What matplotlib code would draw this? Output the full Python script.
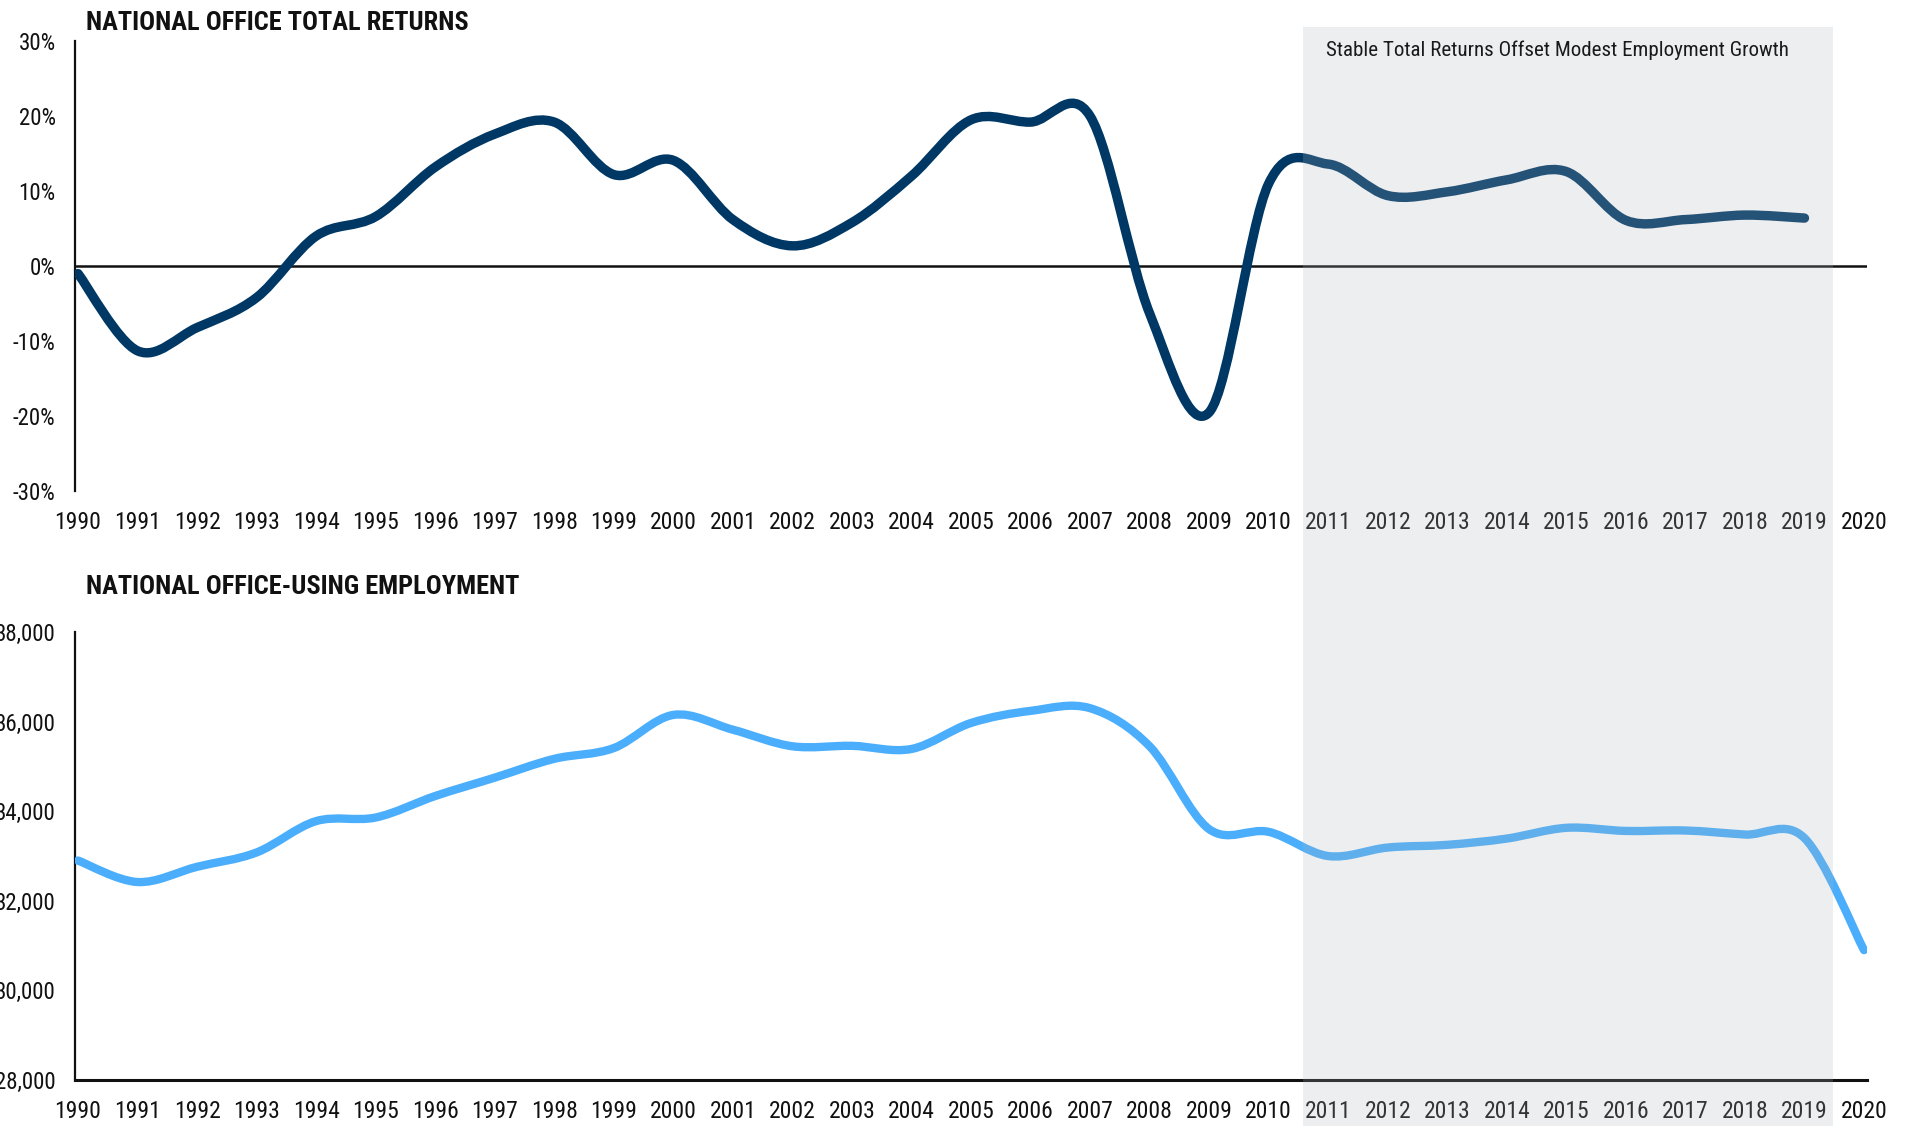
import matplotlib.pyplot as plt
import matplotlib.transforms as mtransforms
from matplotlib.path import Path
from matplotlib.patches import PathPatch, Rectangle
from matplotlib.ticker import FuncFormatter
import numpy as np

plt.rcParams['font.family'] = ['Roboto Condensed', 'Roboto', 'DejaVu Sans']
plt.rcParams['font.stretch'] = 'condensed'

# national office total returns, % per year
return_years = list(range(1990, 2020))
total_returns = [-1.0, -11.3, -8.2, -4.2, 4.0, 6.6, 13.2, 17.6, 19.2, 12.2,
                 14.1, 6.2, 2.7, 5.8, 12.0, 19.5, 19.2, 20.0, -6.3, -19.5,
                 11.0, 13.6, 9.4, 9.9, 11.5, 12.6, 6.1, 6.2, 6.8, 6.4]

# national office-using employment (thousands)
emp_years = list(range(1990, 2021))
employment = [32900, 32420, 32760, 33080, 33780, 33860, 34340, 34750, 35170, 35410,
              36150, 35820, 35450, 35460, 35390, 35970, 36240, 36300, 35450, 33600,
              33540, 33000, 33190, 33250, 33390, 33630, 33560, 33570, 33480, 33400,
              30900]

year_ticks = list(range(1990, 2021))
shade_span = (2010.58, 2019.48)
shade_note = 'Stable Total Returns Offset Modest Employment Growth'

NAVY = '#003865'
SKY = '#4aaefc'


def smooth_path(xs, ys):
    # catmull-rom style bezier through every point, like a spreadsheet "smoothed line"
    p = np.column_stack([xs, ys]).astype(float)
    ext = np.vstack([p[0], p, p[-1]])
    verts = [p[0]]
    codes = [Path.MOVETO]
    for i in range(1, len(ext) - 2):
        p0, p1, p2, p3 = ext[i - 1], ext[i], ext[i + 1], ext[i + 2]
        c1 = p1 + (p2 - p0) / 6.0
        c2 = p2 - (p3 - p1) / 6.0
        verts += [c1, c2, p2]
        codes += [Path.CURVE4] * 3
    return Path(verts, codes)


def draw_line(ax, xs, ys, color, lw):
    patch = PathPatch(smooth_path(xs, ys), facecolor='none', edgecolor=color,
                      lw=lw, capstyle='round', joinstyle='round', zorder=3)
    ax.add_patch(patch)


fig = plt.figure(figsize=(19.1, 11.26), dpi=100)

left, width = 75 / 1910, 1792 / 1910
ax1 = fig.add_axes([left, 0.5639, width, 0.3996])
ax2 = fig.add_axes([left, 0.0408, width, 0.3979])

for ax in (ax1, ax2):
    ax.set_xlim(1989.95, 2020.05)
    ax.set_xticks(year_ticks)
    ax.set_xticklabels([str(y) for y in year_ticks], fontsize=17, color='#111111')
    ax.tick_params(axis='both', length=0)
    ax.tick_params(axis='x', pad=14.5)
    ax.tick_params(axis='y', pad=14, labelsize=16.5, labelcolor='#111111')
    for s in ('top', 'right'):
        ax.spines[s].set_visible(False)
    ax.spines['left'].set_linewidth(1.6)
    ax.spines['left'].set_color('#111111')

# top panel: returns
ax1.set_ylim(-30, 30)
ax1.set_yticks([-30, -20, -10, 0, 10, 20, 30])
ax1.yaxis.set_major_formatter(FuncFormatter(lambda v, _: '{:.0f}%'.format(v)))
ax1.spines['bottom'].set_visible(False)
ax1.axhline(0, color='#111111', lw=1.8, zorder=2)
draw_line(ax1, return_years, total_returns, NAVY, 6.8)

# bottom panel: employment
ax2.set_ylim(28000, 38000)
ax2.set_yticks(range(28000, 38001, 2000))
ax2.yaxis.set_major_formatter(FuncFormatter(lambda v, _: '{:,.0f}'.format(v)))
ax2.spines['bottom'].set_linewidth(2.2)
ax2.spines['bottom'].set_color('#111111')
draw_line(ax2, emp_years, employment, SKY, 6)

fig.text(86 / 1910, 1 - 23 / 1126, 'NATIONAL OFFICE TOTAL RETURNS',
         fontsize=19, fontweight='bold', va='center', ha='left', color='#111111')
fig.text(86 / 1910, 1 - 587 / 1126, 'NATIONAL OFFICE-USING EMPLOYMENT',
         fontsize=19, fontweight='bold', va='center', ha='left', color='#111111')

# translucent band over the recent period, spanning both panels
trans = mtransforms.blended_transform_factory(ax1.transData, fig.transFigure)
band = Rectangle((shade_span[0], 0), shade_span[1] - shade_span[0], 1 - 27 / 1126,
                 transform=trans, facecolor=(0.67, 0.70, 0.73), alpha=0.22,
                 edgecolor='none', zorder=10)
fig.add_artist(band)

fig.text(1326 / 1910, 1 - 50 / 1126, shade_note, fontsize=15.1,
         va='center', ha='left', color='#1a1a1a', zorder=11)

fig.savefig('out.png', dpi=100, facecolor='white')
